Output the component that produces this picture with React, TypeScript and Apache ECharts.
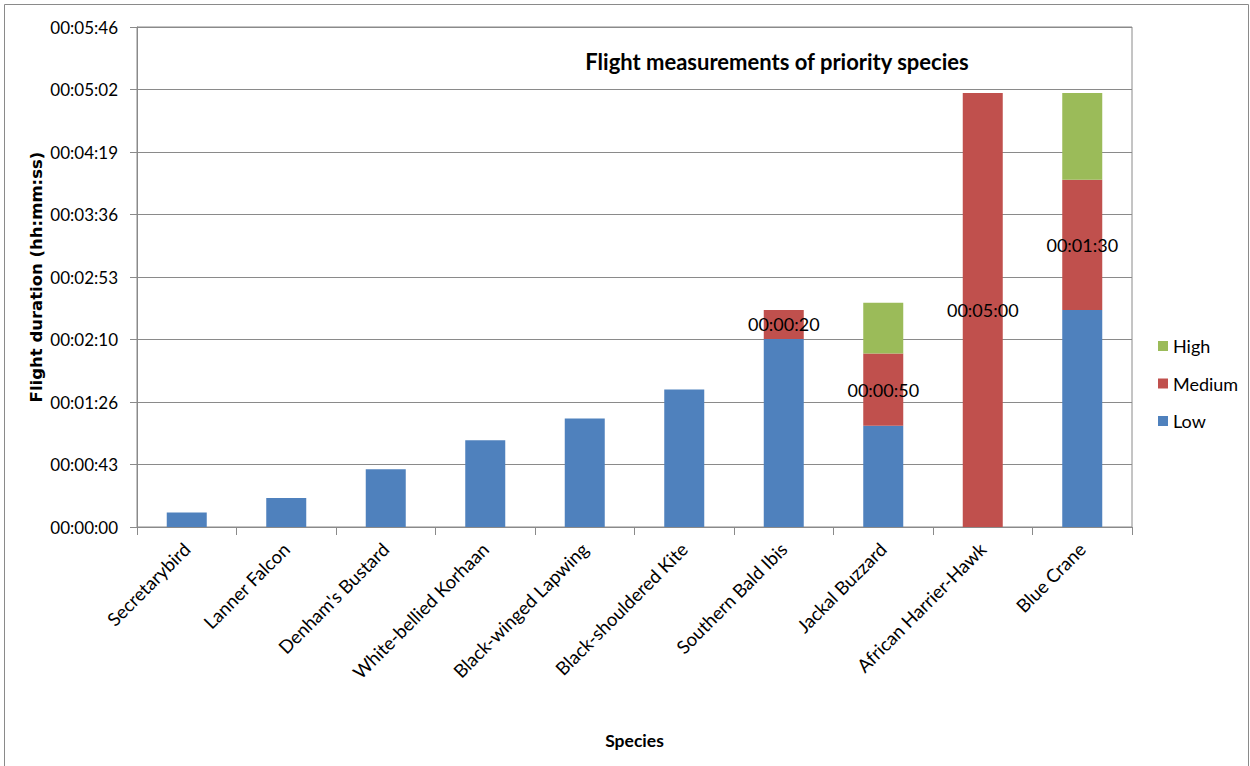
import React, { useEffect, useRef } from "react";
import * as echarts from "echarts";

const categories = [
  "Secretarybird",
  "Lanner Falcon",
  "Denham's Bustard",
  "White-bellied Korhaan",
  "Black-winged Lapwing",
  "Black-shouldered Kite",
  "Southern Bald Ibis",
  "Jackal Buzzard",
  "African Harrier-Hawk",
  "Blue Crane",
];
// values in seconds
const lowValues = [10, 20, 40, 60, 75, 95, 130, 70, null, 150];
const mediumValues = [null, null, null, null, null, null, 20, 50, 300, 90];
const highValues = [null, null, null, null, null, null, null, 35, null, 60];

const FONT = "Lato, 'Open Sans', sans-serif";
const NAME_FONT = "'DejaVu Sans', Lato, sans-serif";

function fmt(sec: number): string {
  const t = Math.round(sec);
  const h = Math.floor(t / 3600);
  const m = Math.floor((t % 3600) / 60);
  const s = t % 60;
  const p = (n: number) => String(n).padStart(2, "0");
  return `${p(h)}:${p(m)}:${p(s)}`;
}

export default function App() {
  const ref = useRef<HTMLDivElement>(null);
  useEffect(() => {
    document.body.style.margin = "0";
    const chart = echarts.init(ref.current!, null, { renderer: "svg" });
    chart.setOption({
      animation: false,
      backgroundColor: "#fff",
      textStyle: { fontFamily: FONT },
      title: {
        text: "Flight measurements of priority species",
        left: 772,
        top: 45,
        textAlign: "center",
        textStyle: { fontFamily: FONT, fontSize: 22, fontWeight: "bold", color: "#000" },
      },
      legend: {
        orient: "vertical",
        left: 1153,
        top: 332,
        itemWidth: 10,
        itemHeight: 10,
        itemGap: 19.5,
        icon: "rect",
        data: ["High", "Medium", "Low"],
        textStyle: { fontFamily: FONT, fontSize: 18, color: "#000" },
      },
      graphic: [
        {
          type: "rect",
          shape: { x: 4.5, y: 4.5, width: 1244, height: 780 },
          style: { fill: "none", stroke: "#8a8a8a", lineWidth: 1 },
          silent: true,
        },
      ],
      grid: {
        left: 137,
        top: 27,
        right: 118,
        bottom: 239,
        show: true,
        borderColor: "#8a8a8a",
        borderWidth: 1,
        containLabel: false,
        outerBoundsMode: "none",
      },
      xAxis: {
        type: "category",
        data: categories,
        name: "Species",
        nameLocation: "middle",
        nameGap: 204,
        nameMoveOverlap: false,
        nameTextStyle: { fontFamily: FONT, fontSize: 17.5, fontWeight: "bold", color: "#000" },
        axisLine: { lineStyle: { color: "#8a8a8a" } },
        axisTick: { show: true, length: 8, lineStyle: { color: "#8a8a8a" } },
        axisLabel: {
          rotate: 45,
          interval: 0,
          margin: 19,
          fontFamily: FONT,
          fontSize: 18.5,
          color: "#000",
        },
      },
      yAxis: {
        type: "value",
        min: 0,
        max: 345.6,
        interval: 43.2,
        name: "Flight duration (hh:mm:ss)",
        nameLocation: "middle",
        nameGap: 92,
        nameMoveOverlap: false,
        nameTextStyle: { fontFamily: NAME_FONT, fontSize: 16.5, fontWeight: "bold", color: "#000" },
        axisLine: { show: true, lineStyle: { color: "#8a8a8a" } },
        axisTick: { show: true, length: 7, lineStyle: { color: "#8a8a8a" } },
        splitLine: { lineStyle: { color: "#8a8a8a" } },
        axisLabel: {
          margin: 19,
          fontFamily: FONT,
          fontSize: 17,
          color: "#000",
          formatter: (v: number) => fmt(v),
        },
      },
      series: [
        {
          name: "Low",
          type: "bar",
          stack: "total",
          data: lowValues,
          barWidth: 40,
          itemStyle: { color: "#4F81BD" },
        },
        {
          name: "Medium",
          type: "bar",
          stack: "total",
          data: mediumValues,
          barWidth: 40,
          itemStyle: { color: "#C0504D" },
          label: {
            show: true,
            position: "inside",
            color: "#000",
            fontFamily: FONT,
            fontSize: 18,
            formatter: (p: any) => fmt(p.value),
          },
        },
        {
          name: "High",
          type: "bar",
          stack: "total",
          data: highValues,
          barWidth: 40,
          itemStyle: { color: "#9BBB59" },
        },
      ],
    });
    return () => chart.dispose();
  }, []);
  return <div ref={ref} style={{ width: 1250, height: 766 }} />;
}
